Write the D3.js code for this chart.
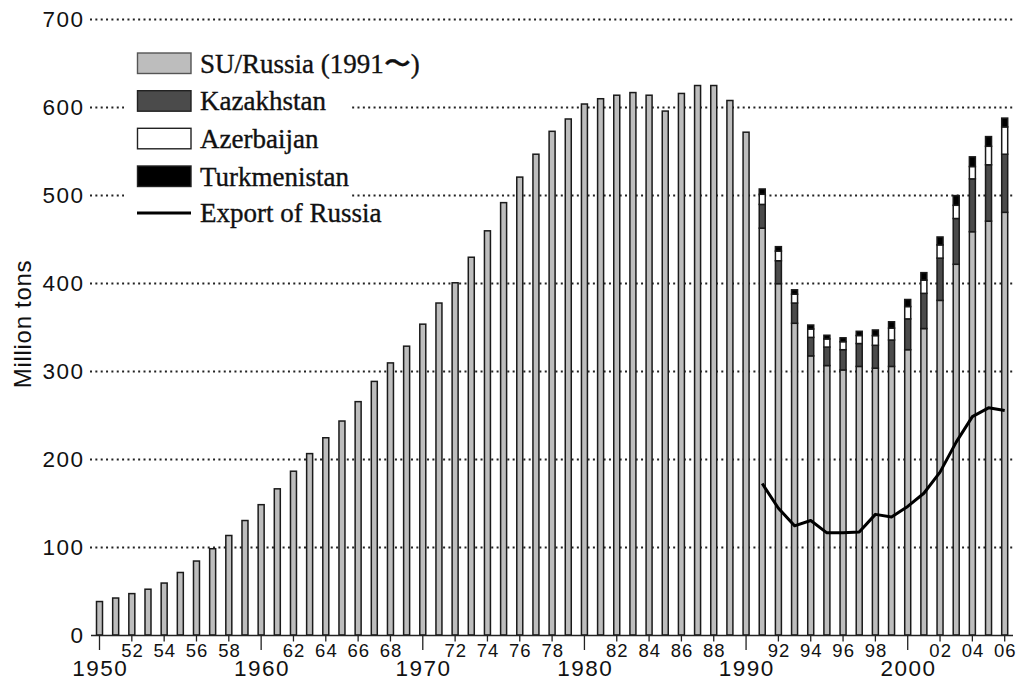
<!DOCTYPE html>
<html>
<head>
<meta charset="utf-8">
<script src="https://cdn.jsdelivr.net/npm/d3@7"></script>
<style>
  body { margin: 0; background: #fff; }
  svg { display: block; }
</style>
</head>
<body>
<div id="chart"></div>
<script>
// oil production, million tons
const years = d3.range(1950, 2007);
// Soviet Union until 1990, Russia from 1991
const russia = [
  38, 42, 47, 52, 59, 71, 84, 98, 113, 130,
  148, 166, 186, 206, 224, 243, 265, 288, 309, 328,
  353, 377, 400, 429, 459, 491, 520, 546, 572, 586,
  603, 609, 613, 616, 613, 595, 615, 624, 624, 607,
  571,
  462, 399, 354, 317, 306, 301, 305, 303, 305, 324,
  348, 380, 421, 458, 470, 480
];
const stackYears = d3.range(1991, 2007);
const kazakhstan   = [27, 26, 23, 21, 21, 23, 26, 26, 30, 35, 40, 48, 52, 60, 64, 66];
const azerbaijan   = [11.5, 11, 10, 9.5, 9.2, 9.1, 9.1, 11, 13.5, 14, 15, 15, 15, 14, 21, 31];
const turkmenistan = [6, 5, 5, 4.5, 4.2, 4.4, 4.8, 6.4, 7.2, 8, 8.5, 9, 11, 11, 11, 10];
const exportRussia = [172, 144, 124, 130, 116, 116, 117, 137, 134, 146, 161, 185, 219, 248, 258, 255];

const yTicks = [0, 100, 200, 300, 400, 500, 600, 700];
const decadeYears = [1950, 1960, 1970, 1980, 1990, 2000];
const seriesNames = ["SU/Russia (1991\u301C)", "Kazakhstan", "Azerbaijan", "Turkmenistan"];
const seriesColors = ["#bdbdbd", "#4b4b4b", "#ffffff", "#000000"];
const lineName = "Export of Russia";

const width = 1018, height = 681;
const svg = d3.select("#chart").append("svg")
  .attr("width", width)
  .attr("height", height);

const x = d3.scaleLinear().domain([1950, 2006]).range([99.5, 1004.7]);
const y = d3.scaleLinear().domain([0, 700]).range([635, 18.6]);

const sansFont = "'Liberation Sans', Arial, sans-serif";
const serifFont = "'Liberation Serif', 'Times New Roman', serif";

// dotted grid lines
svg.append("g").attr("class", "grid")
  .selectAll("line")
  .data(yTicks.filter(d => d > 0))
  .join("line")
  .attr("x1", 90).attr("x2", 1013)
  .attr("y1", d => Math.round(y(d)) + 0.5)
  .attr("y2", d => Math.round(y(d)) + 0.5)
  .attr("stroke", "#222")
  .attr("stroke-width", 1.8)
  .attr("stroke-dasharray", "2,3.35");

// y tick labels
svg.append("g").attr("class", "ylabels")
  .selectAll("text")
  .data(yTicks)
  .join("text")
  .attr("x", 84.5)
  .attr("y", d => y(d) + 8)
  .attr("text-anchor", "end")
  .attr("font-family", sansFont)
  .attr("font-size", 22.5)
  .attr("letter-spacing", 1.5)
  .attr("fill", "#111")
  .text(d => d);

svg.append("text")
  .attr("transform", "translate(31,324) rotate(-90)")
  .attr("text-anchor", "middle")
  .attr("font-family", sansFont)
  .attr("font-size", 24)
  .attr("letter-spacing", 0.7)
  .attr("fill", "#111")
  .text("Million tons");

// bars
const barW = 6;
const stacked = stackYears.map((yr, i) => ({
  year: yr,
  values: [russia[years.indexOf(yr)], kazakhstan[i], azerbaijan[i], turkmenistan[i]]
}));

const barsG = svg.append("g").attr("class", "bars");

// SU years: single bars
barsG.selectAll(".su")
  .data(years.filter(yr => yr < 1991))
  .join("rect")
  .attr("class", "su")
  .attr("x", d => x(d) - barW / 2)
  .attr("width", barW)
  .attr("y", d => y(russia[years.indexOf(d)]))
  .attr("height", d => y(0) - y(russia[years.indexOf(d)]))
  .attr("fill", seriesColors[0])
  .attr("stroke", "#1a1a1a")
  .attr("stroke-width", 1.5);

// stacked from 1991
const segs = [];
stacked.forEach(s => {
  let base = 0;
  s.values.forEach((v, k) => {
    segs.push({ year: s.year, y0: base, y1: base + v, k });
    base += v;
  });
});

barsG.selectAll(".seg")
  .data(segs)
  .join("rect")
  .attr("class", "seg")
  .attr("x", d => x(d.year) - barW / 2)
  .attr("width", barW)
  .attr("y", d => y(d.y1))
  .attr("height", d => y(d.y0) - y(d.y1))
  .attr("fill", d => seriesColors[d.k])
  .attr("stroke", "#1a1a1a")
  .attr("stroke-width", 1.5);

// export line
const line = d3.line()
  .x((d, i) => x(stackYears[i]))
  .y(d => y(d));

svg.append("path")
  .datum(exportRussia)
  .attr("d", line)
  .attr("fill", "none")
  .attr("stroke", "#000")
  .attr("stroke-width", 3)
  .attr("stroke-linejoin", "round");

// x axis
const axisG = svg.append("g").attr("class", "xaxis");
axisG.append("line")
  .attr("x1", 91).attr("x2", 1013)
  .attr("y1", 635.5).attr("y2", 635.5)
  .attr("stroke", "#222").attr("stroke-width", 1.4);

const evenYears = years.filter(yr => yr % 2 === 0);
axisG.selectAll(".tick")
  .data(evenYears)
  .join("line")
  .attr("class", "tick")
  .attr("x1", d => x(d)).attr("x2", d => x(d))
  .attr("y1", 635)
  .attr("y2", d => d % 10 === 0 ? 650 : 641.5)
  .attr("stroke", "#222")
  .attr("stroke-width", 1.3);

axisG.selectAll(".minor")
  .data(evenYears.filter(yr => yr % 10 !== 0))
  .join("text")
  .attr("class", "minor")
  .attr("x", d => x(d) + 0.6)
  .attr("y", 657)
  .attr("text-anchor", "middle")
  .attr("font-family", sansFont)
  .attr("font-size", 18.5)
  .attr("letter-spacing", 1)
  .attr("fill", "#111")
  .text(d => String(d % 100).padStart(2, "0"));

axisG.selectAll(".decade")
  .data(decadeYears)
  .join("text")
  .attr("class", "decade")
  .attr("x", d => x(d) + 0.8)
  .attr("y", 676)
  .attr("text-anchor", "middle")
  .attr("font-family", sansFont)
  .attr("font-size", 22.5)
  .attr("letter-spacing", 1.5)
  .attr("fill", "#111")
  .text(d => d);

// legend
const legend = svg.append("g").attr("class", "legend");
legend.append("rect")
  .attr("x", 124).attr("y", 44)
  .attr("width", 228).attr("height", 186)
  .attr("fill", "#fff");

const rowY = [53, 90.7, 128.3, 166];
seriesNames.forEach((name, i) => {
  legend.append("rect")
    .attr("x", 137.5).attr("y", rowY[i])
    .attr("width", 53.5).attr("height", 20.5)
    .attr("fill", seriesColors[i])
    .attr("stroke", i === 0 ? "#555" : "#222")
    .attr("stroke-width", 1.4);
  legend.append("text")
    .attr("x", 200).attr("y", rowY[i] + 19.7)
    .attr("font-family", serifFont)
    .attr("font-size", 27)
    .attr("fill", "#111")
    .attr("stroke", "#111")
    .attr("stroke-width", 0.35)
    .text(name);
});
legend.append("line")
  .attr("x1", 137).attr("x2", 191)
  .attr("y1", 213).attr("y2", 213)
  .attr("stroke", "#000").attr("stroke-width", 3);
legend.append("text")
  .attr("x", 200).attr("y", 222)
  .attr("font-family", serifFont)
  .attr("font-size", 27)
  .attr("fill", "#111")
  .attr("stroke", "#111")
  .attr("stroke-width", 0.35)
  .text(lineName);
</script>
</body>
</html>
